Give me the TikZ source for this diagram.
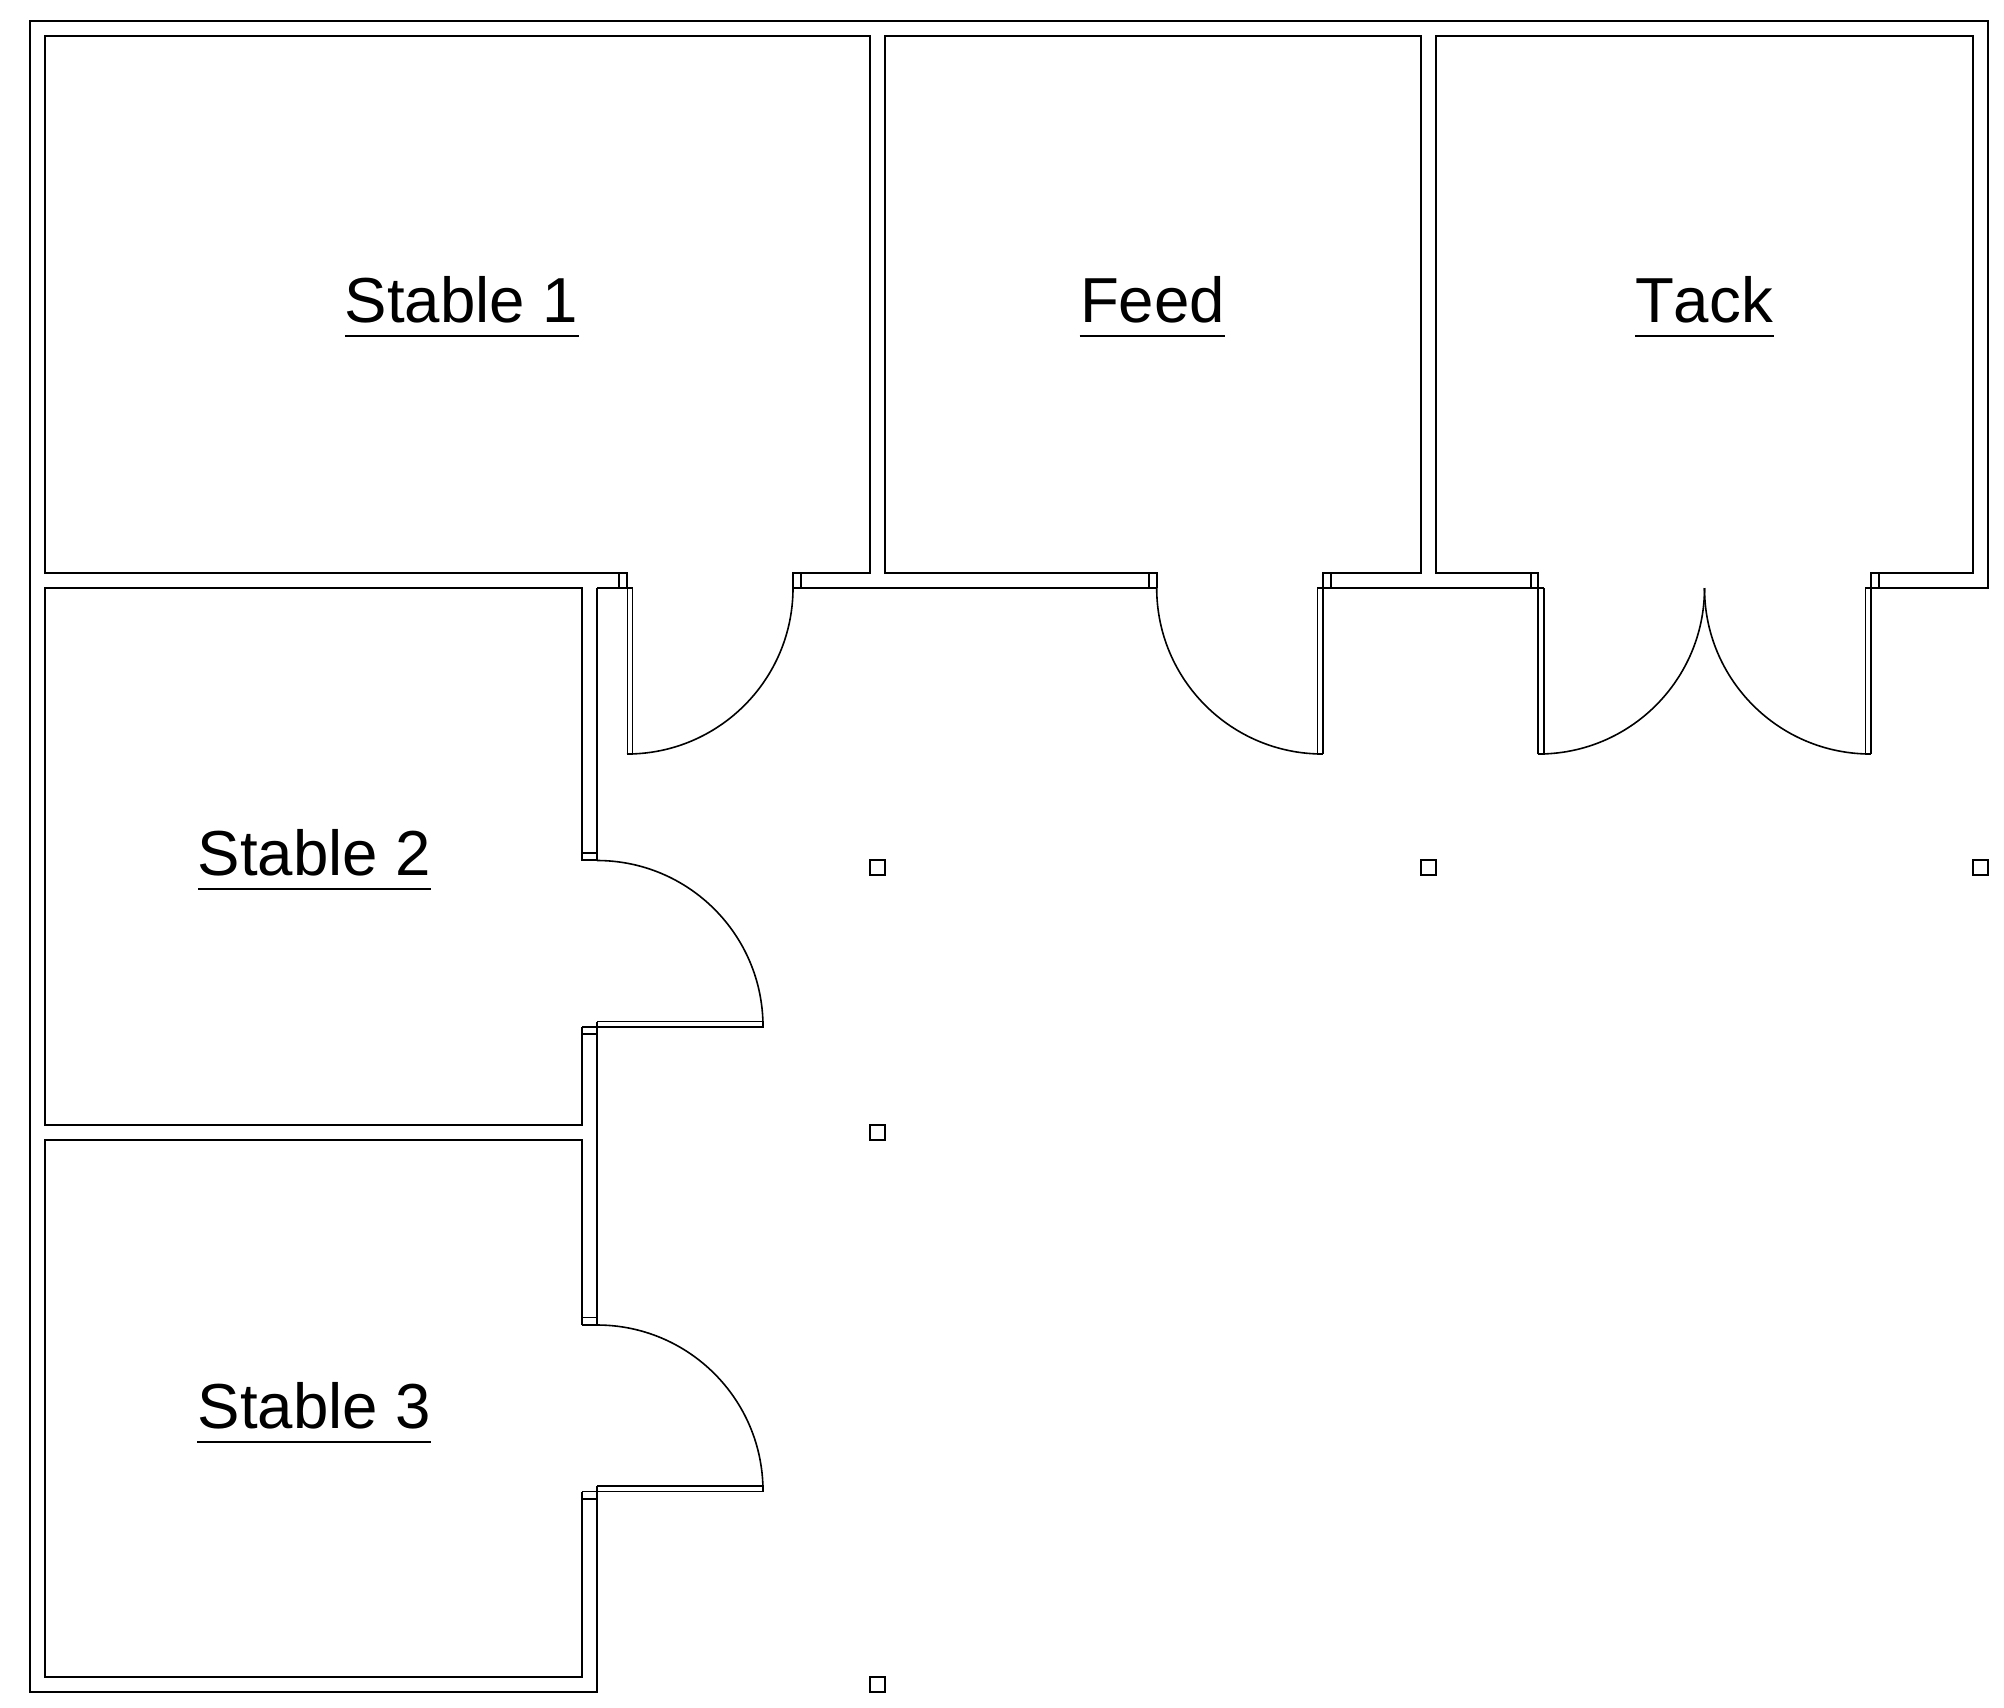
\documentclass[tikz,border=0pt]{standalone}
\usepackage{fontspec}
\setmainfont[RawFeature=-kern]{Liberation Sans}
\tikzset{
  wall/.style={draw=black,line width=0.95pt},
  leaf/.style={draw=black,line width=0.7pt},
  swing/.style={draw=black,line width=0.8pt},
  post/.style={draw=black,line width=0.95pt},
  rule/.style={draw=black,line width=0.85pt},
  roomlabel/.style={font=\fontsize{31.8pt}{38pt}\selectfont,anchor=base,inner sep=0pt,text=black}
}
\begin{document}
\begin{tikzpicture}[x=0.5pt,y=-0.5pt]
\useasboundingbox (0,0) rectangle (2004,1708);
\fill[white] (0,0) rectangle (2004,1708);
% outer shell
\draw[wall] (597,1486) -- (597,1692) -- (30,1692) -- (30,21) -- (1988,21) -- (1988,588) -- (1871,588);
% Stable 1
\draw[wall] (627.3,588) -- (627.3,573) -- (45,573) -- (45,36) -- (870,36) -- (870,573) -- (793,573) -- (793,588);
\draw[wall] (619.3,573) -- (619.3,588);
\draw[wall] (801,573) -- (801,588);
% Feed
\draw[wall] (1156.7,588) -- (1156.7,573) -- (885,573) -- (885,36) -- (1421,36) -- (1421,573) -- (1322.7,573) -- (1322.7,754.3);
\draw[wall] (1149.3,573) -- (1149.3,588);
\draw[wall] (1330.7,573) -- (1330.7,588);
% Tack
\draw[wall] (1538.3,754.3) -- (1538.3,573) -- (1436,573) -- (1436,36) -- (1973,36) -- (1973,573) -- (1871,573) -- (1871,754.3);
\draw[wall] (1530.7,573) -- (1530.7,588);
\draw[wall] (1878.7,573) -- (1878.7,588);
% corridor wall lines along the front
\draw[wall] (793,588) -- (1156.7,588);
\draw[wall] (1317.3,588) -- (1544,588);
\draw[wall] (1865.3,588) -- (1871,588);
\draw[wall] (597,588) -- (632.7,588);
% Stable 2
\draw[wall] (582,852.7) -- (582,588) -- (45,588) -- (45,1125) -- (582,1125) -- (582,1027);
\draw[wall] (582,852.7) -- (582,860.3) -- (597,860.3) -- (597,588);
\draw[wall] (582,852.7) -- (597,852.7);
\draw[wall] (582,1027) -- (597,1027);
\draw[wall] (582,1034.3) -- (597,1034.3);
\draw[wall] (597,1021.7) -- (597,1317.5);
% Stable 3
\draw[wall] (582,1325) -- (582,1140) -- (45,1140) -- (45,1677) -- (582,1677) -- (582,1491.5);
\draw[wall] (582,1317.5) -- (597,1317.5);
\draw[wall] (582,1325) -- (597,1325) -- (597,1317.5);
\draw[wall] (582,1491.5) -- (597,1491.5);
\draw[wall] (582,1498.8) -- (597,1498.8);
% door leaves
\draw[leaf] (627.3,588) -- (627.3,754.3) -- (632.7,754.3) -- (632.7,588);
\draw[leaf] (1317.3,588) -- (1317.3,754.3) -- (1322.7,754.3);
\draw[leaf] (1538.3,754.3) -- (1544,754.3) -- (1544,588);
\draw[leaf] (1865.3,588) -- (1865.3,754.3) -- (1871,754.3);
\draw[leaf] (597,1021.7) -- (763.3,1021.7) -- (763.3,1027) -- (597,1027);
\draw[leaf] (597,1486) -- (763.3,1486) -- (763.3,1491.5) -- (597,1491.5);
% door swings
\draw[swing] (793,588) arc[start angle=0,end angle=-90,radius=83pt];
\draw[swing] (1156.7,588) arc[start angle=180,end angle=270,radius=83pt];
\draw[swing] (1704.5,588) arc[start angle=0,end angle=-90,radius=83pt];
\draw[swing] (1704.5,588) arc[start angle=180,end angle=270,radius=83pt];
\draw[swing] (597,860.5) arc[start angle=90,end angle=0,radius=83pt];
\draw[swing] (597,1325) arc[start angle=90,end angle=0,radius=83pt];
% posts
\draw[post] (870,860) rectangle (885,875);
\draw[post] (1421,860) rectangle (1436,875);
\draw[post] (1973,860) rectangle (1988,875);
\draw[post] (870,1125) rectangle (885,1140);
\draw[post] (870,1677) rectangle (885,1692);
% labels
\node[roomlabel] (s1) at (461.5,322.5) {Stable 1};
\node[roomlabel] (fd) at (1152.5,322.5) {Feed};
\node[roomlabel] (tk) at (1704,322.5) {Tack};
\node[roomlabel] (s2) at (314.5,875.5) {Stable 2};
\node[roomlabel] (s3) at (314.5,1428) {Stable 3};
\draw[rule] (345,336) -- (579,336);
\draw[rule] (1079.5,336) -- (1225,336);
\draw[rule] (1635,336) -- (1773.5,336);
\draw[rule] (198,889) -- (431,889);
\draw[rule] (197,1442) -- (431,1442);
\end{tikzpicture}
\end{document}
